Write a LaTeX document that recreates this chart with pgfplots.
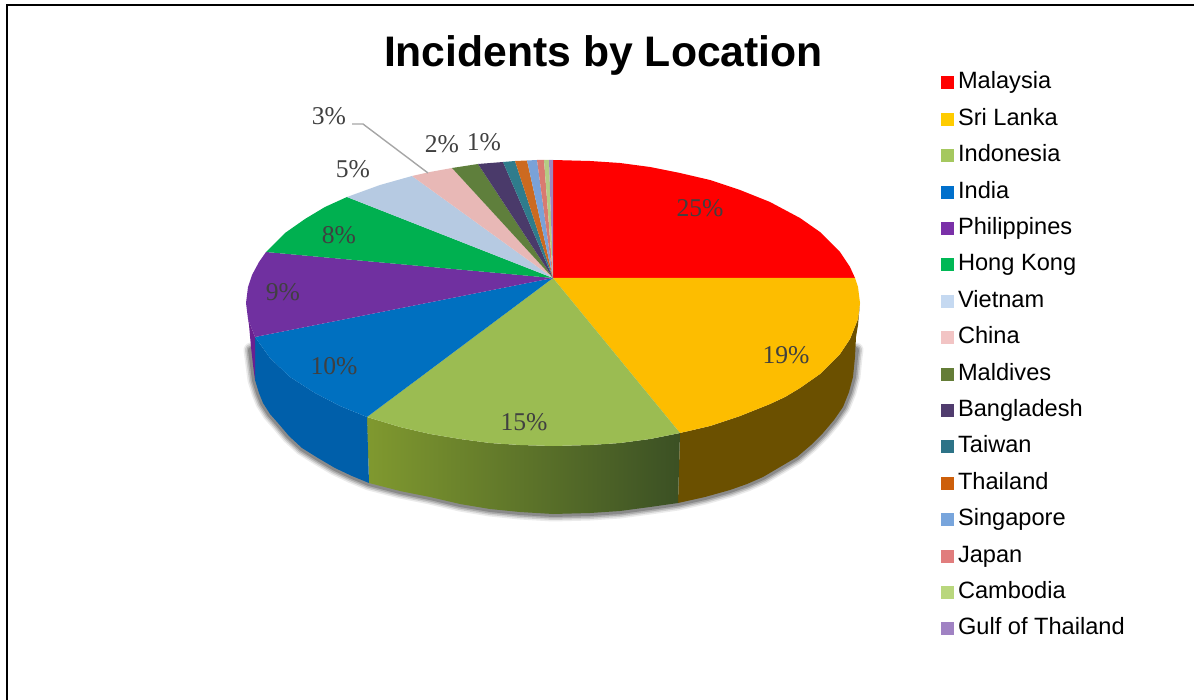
\documentclass[border=0pt]{standalone}
\usepackage{fontspec}
\usepackage{pgfplots}
\usepackage{pgfplotstable}
\pgfplotsset{compat=1.18}
\setmainfont{Liberation Sans}
\newfontfamily\labfont{Liberation Serif}
% pie colours
\definecolor{cMal}{HTML}{FF0000}
\definecolor{cSri}{HTML}{FDBD00}
\definecolor{cIdn}{HTML}{9BBC52}
\definecolor{cInd}{HTML}{0070C0}
\definecolor{cPhi}{HTML}{7030A0}
\definecolor{cHkg}{HTML}{00B050}
\definecolor{cVie}{HTML}{B6CAE2}
\definecolor{cChn}{HTML}{E8B8B6}
\definecolor{cMdv}{HTML}{5F7F3C}
\definecolor{cBgd}{HTML}{4A3A6A}
\definecolor{cTwn}{HTML}{2F7C8C}
\definecolor{cTha}{HTML}{CC6A20}
\definecolor{cSgp}{HTML}{7AA2D8}
\definecolor{cJpn}{HTML}{D97A70}
\definecolor{cKhm}{HTML}{B4CC84}
\definecolor{cGul}{HTML}{9E86C0}
% lower edge of the pie, in pixels of the reference
\pgfplotstableread{
x y
251 350
253 365
255 380
259 393
263 403
270 414
278 423
289 436
302 448
318 458
335 468
352 476
369 483
400 491
430 497
460 504
490 509
520 512
553 514
590 513
620 511
650 507
678 503
705 497
730 490
747 484
763 477
780 467
797 457
811 445
823 433
834 420
843 407
849 392
853 377
855 357
856 350
}\edgetable
\newcommand{\pct}[3]{\node[font=\labfont\fontsize{25.6}{26}\selectfont,text=black!75,inner sep=0pt] at (axis cs:#1,#2) {#3\%};}
\begin{document}
\begin{tikzpicture}
\begin{axis}[
    scale only axis,
    width=1194pt, height=700pt,
    xmin=0, xmax=1194, ymin=0, ymax=700,
    y dir=reverse,
    hide axis,
    no markers,
    title={\fontsize{42.7}{44}\selectfont\bfseries Incidents by Location},
    title style={at={(axis description cs:0.5054,0.897)},anchor=base,inner sep=0pt},
    legend image code/.code={\fill[#1,draw=none] (0pt,-6.5pt) rectangle (13pt,6.5pt);},
    legend style={
        draw=none, fill=none,
        at={(axis description cs:0.788,0.8975)}, anchor=north west,
        row sep=14.4pt, inner sep=0pt,
        font=\fontsize{23.6}{24}\selectfont,
        nodes={inner sep=0pt, text height=17pt, text depth=5pt},
        /tikz/every odd column/.append style={column sep=4pt},
    },
    legend cell align=left,
]
% keeps the page as large as the whole axis
\addplot[draw=none, forget plot] coordinates {(0,0) (1194,0) (1194,700) (0,700)};
% frame of the picture
\addplot[black, line width=2pt, forget plot] coordinates {(6.5,700) (6.5,5.5) (1194,5.5)};

% soft shadow under the pie
\addplot[black, line width=15pt, line join=round, line cap=round, opacity=0.08, forget plot] table {\edgetable};
\addplot[black, line width=12pt, line join=round, line cap=round, opacity=0.12, forget plot] table {\edgetable};
\addplot[black, line width=9pt, line join=round, line cap=round, opacity=0.16, forget plot] table {\edgetable};
\addplot[black, line width=6pt, line join=round, line cap=round, opacity=0.20, forget plot] table {\edgetable};

% side faces
\addplot[fill={rgb,255:red,107;green,80;blue,0}, draw=none, forget plot] coordinates {
    (860,303) (858,319) (850,339) (840,354) (830,364) (820,374) (800,388) (785,397) (770,404) (740,416) (710,426) (680,433)
    (678,503) (705,497) (730,490) (747,484) (763,477) (780,467) (797,457) (811,445) (823,433) (834,420) (843,407)
    (849,392) (853,377) (855,357) (856,337) (858,325)
} --cycle;
\addplot[left color={rgb,255:red,128;green,153;blue,47}, middle color={rgb,255:red,90;green,110;blue,42},
    right color={rgb,255:red,59;green,80;blue,36}, draw=none, forget plot] coordinates {
    (680,433) (650,439) (620,443) (590,445) (553,446) (520,445) (490,443) (460,439) (430,434) (400,427) (367,417)
    (369,483) (400,491) (430,497) (460,504) (490,509) (520,512) (553,514) (590,513) (620,511) (650,507) (678,503)
} --cycle;
\addplot[fill={rgb,255:red,0;green,95;blue,170}, draw=none, forget plot] coordinates {
    (367,417) (340,406) (315,393) (290,377) (270,358) (255,337)
    (255,380) (259,393) (263,403) (270,414) (278,423) (289,436) (302,448) (318,458) (335,468) (352,476) (369,483)
} --cycle;
\addplot[fill={rgb,255:red,106;green,32;blue,144}, draw=none, forget plot] coordinates {
    (255,337) (248,319) (249,325) (251,347) (253,365) (255,380)
} --cycle;

% top of the pie, one wedge per location
\addplot[fill=cMal, draw=none, forget plot] coordinates {
    (553,278) (553,160) (590,161) (620,163) (650,167) (680,173) (710,180) (740,190) (770,202) (800,218) (820,232) (840,252) (850,267) (855,278)
} --cycle;
\addplot[fill=cSri, draw=none, forget plot] coordinates {
    (553,278) (855,278) (858,287) (860,303) (858,319) (850,339) (840,354) (830,364) (820,374) (800,388) (785,397) (770,404) (740,416) (710,426) (680,433)
} --cycle;
\addplot[fill=cIdn, draw=none, forget plot] coordinates {
    (553,278) (680,433) (650,439) (620,443) (590,445) (553,446) (520,445) (490,443) (460,439) (430,434) (400,427) (367,417)
} --cycle;
\addplot[fill=cInd, draw=none, forget plot] coordinates {
    (553,278) (367,417) (340,406) (315,393) (290,377) (270,358) (255,337)
} --cycle;
\addplot[fill=cPhi, draw=none, forget plot] coordinates {
    (553,278) (255,337) (248,319) (246,303) (248,287) (252,275) (259,262) (266,252)
} --cycle;
\addplot[fill=cHkg, draw=none, forget plot] coordinates {
    (553,278) (266,252) (285,233) (305,219) (325,207) (347,197)
} --cycle;
\addplot[fill=cVie, draw=none, forget plot] coordinates {(553,278) (347,197) (380,185) (412,176)} --cycle;
\addplot[fill=cChn, draw=none, forget plot] coordinates {(553,278) (412,176) (430,172) (452,168)} --cycle;
\addplot[fill=cMdv, draw=none, forget plot] coordinates {(553,278) (452,168) (478,164)} --cycle;
\addplot[fill=cBgd, draw=none, forget plot] coordinates {(553,278) (478,164) (503,162)} --cycle;
\addplot[fill=cTwn, draw=none, forget plot] coordinates {(553,278) (503,162) (515,161)} --cycle;
\addplot[fill=cTha, draw=none, forget plot] coordinates {(553,278) (515,161) (527,160.5)} --cycle;
\addplot[fill=cSgp, draw=none, forget plot] coordinates {(553,278) (527,160.5) (537,160)} --cycle;
\addplot[fill=cJpn, draw=none, forget plot] coordinates {(553,278) (537,160) (544,160)} --cycle;
\addplot[fill=cKhm, draw=none, forget plot] coordinates {(553,278) (544,160) (549,160)} --cycle;
\addplot[fill=cGul, draw=none, forget plot] coordinates {(553,278) (549,160) (553,160)} --cycle;

% leader line of the 3% label
\addplot[black!35, line width=1.4pt, forget plot] coordinates {(352,124) (363,124) (428,173)};

% legend
\addlegendimage{fill={rgb,255:red,255;green,0;blue,0}}\addlegendentry{Malaysia}
\addlegendimage{fill={rgb,255:red,255;green,204;blue,0}}\addlegendentry{Sri Lanka}
\addlegendimage{fill={rgb,255:red,165;green,200;blue,95}}\addlegendentry{Indonesia}
\addlegendimage{fill={rgb,255:red,0;green,112;blue,204}}\addlegendentry{India}
\addlegendimage{fill={rgb,255:red,122;green,48;blue,168}}\addlegendentry{Philippines}
\addlegendimage{fill={rgb,255:red,0;green,184;blue,85}}\addlegendentry{Hong Kong}
\addlegendimage{fill={rgb,255:red,197;green,217;blue,241}}\addlegendentry{Vietnam}
\addlegendimage{fill={rgb,255:red,242;green,196;blue,196}}\addlegendentry{China}
\addlegendimage{fill={rgb,255:red,100;green,125;blue,55}}\addlegendentry{Maldives}
\addlegendimage{fill={rgb,255:red,80;green,60;blue,110}}\addlegendentry{Bangladesh}
\addlegendimage{fill={rgb,255:red,45;green,115;blue,135}}\addlegendentry{Taiwan}
\addlegendimage{fill={rgb,255:red,205;green,95;blue,10}}\addlegendentry{Thailand}
\addlegendimage{fill={rgb,255:red,120;green,165;blue,220}}\addlegendentry{Singapore}
\addlegendimage{fill={rgb,255:red,225;green,125;blue,125}}\addlegendentry{Japan}
\addlegendimage{fill={rgb,255:red,185;green,215;blue,125}}\addlegendentry{Cambodia}
\addlegendimage{fill={rgb,255:red,160;green,130;blue,195}}\addlegendentry{Gulf of Thailand}

% percentage labels
\pct{700}{208}{25}
\pct{786}{355}{19}
\pct{524}{422}{15}
\pct{334}{366}{10}
\pct{283}{292}{9}
\pct{339}{235}{8}
\pct{353}{169}{5}
\pct{329}{116}{3}
\pct{442}{144}{2}
\pct{484}{142}{1}
\end{axis}
\end{tikzpicture}
\end{document}
